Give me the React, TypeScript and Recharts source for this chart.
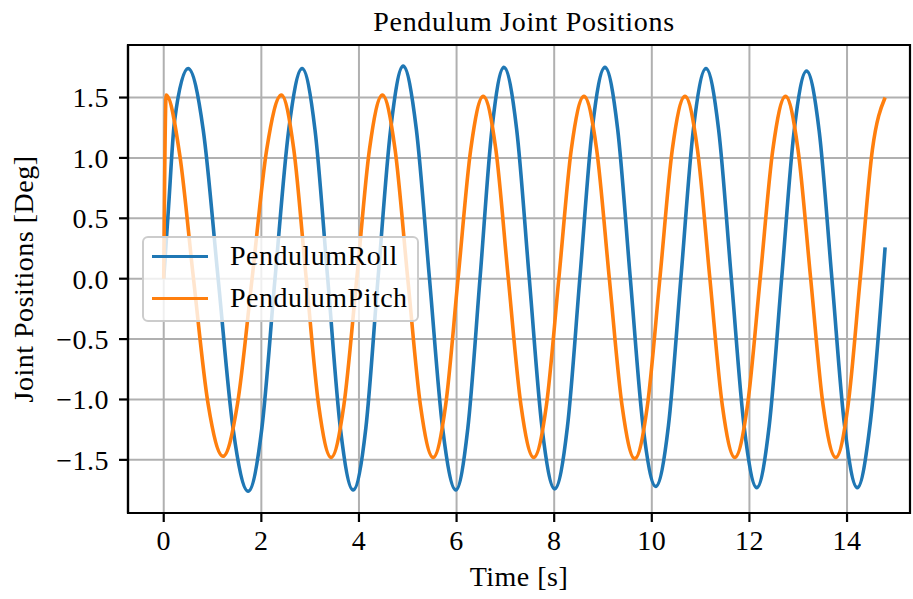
import React from 'react';
import { LineChart, Line, XAxis, YAxis, CartesianGrid, Legend, ReferenceArea } from 'recharts';

// Time stamps [s] and joint angles [deg]
const rollTime = [
  0, 0.1, 0.22, 0.5, 0.81, 1.115, 1.42, 1.73, 2.01, 2.28, 2.56, 2.835, 3.1, 3.36, 3.62, 3.88,
  4.14, 4.39, 4.65, 4.905, 5.175, 5.445, 5.715, 5.985, 6.23, 6.48, 6.725, 6.97, 7.23, 7.49,
  7.75, 8.01, 8.27, 8.525, 8.78, 9.04, 9.3, 9.56, 9.82, 10.08, 10.34, 10.595, 10.85, 11.11,
  11.37, 11.63, 11.89, 12.15, 12.405, 12.66, 12.915, 13.17, 13.43, 13.69, 13.95, 14.21, 14.48, 14.78,
];
const rollDeg = [
  0, 0.6, 1.3, 1.74, 1.23, 0, -1.24, -1.76, -1.24, 0, 1.23, 1.74, 1.23, 0, -1.24, -1.75,
  -1.24, 0, 1.24, 1.76, 1.24, 0, -1.24, -1.75, -1.24, 0, 1.24, 1.75, 1.24, 0,
  -1.23, -1.74, -1.23, 0, 1.24, 1.75, 1.24, 0, -1.22, -1.72, -1.22, 0, 1.23, 1.74,
  1.23, 0, -1.22, -1.73, -1.22, 0, 1.22, 1.72, 1.22, 0, -1.22, -1.73, -1.18, 0.26,
];

const pitchTime = [
  0, 0.05, 0.33, 0.61, 0.91, 1.215, 1.51, 1.81, 2.11, 2.41, 2.665, 2.92, 3.175, 3.43, 3.69,
  3.955, 4.215, 4.48, 4.74, 5.0, 5.26, 5.52, 5.775, 6.03, 6.29, 6.545, 6.805, 7.06, 7.32,
  7.58, 7.84, 8.095, 8.35, 8.61, 8.87, 9.13, 9.39, 9.65, 9.91, 10.165, 10.42, 10.68, 10.935,
  11.19, 11.445, 11.7, 11.96, 12.22, 12.48, 12.74, 12.995, 13.255, 13.51, 13.77, 14.02, 14.27,
  14.52, 14.78,
];
const pitchDeg = [
  0, 1.52, 1.02, 0, -1.04, -1.47, -1.04, 0, 1.07, 1.52, 1.07, 0, -1.05, -1.48, -1.05,
  0, 1.07, 1.52, 1.07, 0, -1.05, -1.48, -1.05, 0, 1.07, 1.51, 1.07, 0, -1.05,
  -1.48, -1.05, 0, 1.07, 1.51, 1.07, 0, -1.05, -1.49, -1.05, 0, 1.07, 1.51, 1.07,
  0, -1.05, -1.48, -1.05, 0, 1.07, 1.51, 1.07, 0, -1.05, -1.48, -1.05, 0,
  1.07, 1.5,
];

const xTicks = [0, 2, 4, 6, 8, 10, 12, 14];
const yTicks = [-1.5, -1.0, -0.5, 0, 0.5, 1.0, 1.5];
const xDomain = [-0.732, 15.29];
const yDomain = [-1.94, 1.935];

const rollData = rollTime.map((t, i) => ({ t, v: rollDeg[i] }));
const pitchData = pitchTime.map((t, i) => ({ t, v: pitchDeg[i] }));

const series = [
  { name: 'PendulumRoll', color: '#1f77b4' },
  { name: 'PendulumPitch', color: '#ff7f0e' },
];

const FONT = "'Liberation Serif', 'Times New Roman', serif";
const FS = 28;
const LS = 0.5;

const fmtY = (v: number) => (v < 0 ? '\u2212' + Math.abs(v).toFixed(1) : v.toFixed(1));

const LegendBox = () => (
  <div
    style={{
      background: 'rgba(255,255,255,0.8)',
      border: '2px solid #cccccc',
      borderRadius: 6,
      boxSizing: 'border-box',
      width: 277,
      height: 86,
      padding: '0 0 8px 8px',
      fontFamily: FONT,
      fontSize: FS,
      letterSpacing: LS,
      color: '#000',
    }}
  >
    {series.map((s, i) => (
      <div key={s.name} style={{ display: 'flex', alignItems: 'center', height: 36, marginTop: i ? 6 : 0 }}>
        <span style={{ display: 'inline-block', width: 56, borderTop: `3.5px solid ${s.color}`, marginRight: 22 }} />
        <span style={{ lineHeight: '36px' }}>{s.name}</span>
      </div>
    ))}
  </div>
);

export default function App() {
  return (
    <div style={{ position: 'absolute', left: 0, top: 0, width: 913, height: 599, background: '#fff' }}>
      <div
        style={{
          position: 'absolute',
          left: 128,
          width: 792,
          top: 8,
          textAlign: 'center',
          fontFamily: FONT,
          fontSize: FS,
          letterSpacing: 0.7,
          lineHeight: '28px',
          color: '#000',
        }}
      >
        Pendulum Joint Positions
      </div>
      <LineChart width={913} height={599} margin={{ top: 45, right: 3, bottom: 0, left: 0 }}>
        <CartesianGrid stroke="#b0b0b0" strokeWidth={2} />
        <XAxis
          type="number"
          dataKey="t"
          domain={xDomain}
          ticks={xTicks}
          allowDataOverflow
          height={86}
          tickSize={9}
          tickMargin={8}
          axisLine={{ stroke: '#000', strokeWidth: 2.2 }}
          tickLine={{ stroke: '#000', strokeWidth: 2.2 }}
          tick={{ fill: '#000', fontFamily: FONT, fontSize: FS, letterSpacing: LS }}
          label={(props: any) => {
            const vb = props.viewBox || { x: 128, y: 513, width: 782 };
            return (
              <text
                x={vb.x + vb.width / 2}
                y={vb.y + 73}
                textAnchor="middle"
                fontFamily={FONT}
                fontSize={FS}
                letterSpacing={LS}
                fill="#000"
              >
                Time [s]
              </text>
            );
          }}
        />
        <YAxis
          type="number"
          dataKey="v"
          domain={yDomain}
          ticks={yTicks}
          allowDataOverflow
          width={128}
          tickSize={9}
          tickMargin={10}
          tickFormatter={fmtY}
          axisLine={{ stroke: '#000', strokeWidth: 2.2 }}
          tickLine={{ stroke: '#000', strokeWidth: 2.2 }}
          tick={{ fill: '#000', fontFamily: FONT, fontSize: FS, letterSpacing: LS }}
          label={(props: any) => {
            const vb = props.viewBox || { x: 0, y: 45, height: 468 };
            const cx = 33;
            const cy = vb.y + vb.height / 2;
            return (
              <text
                x={cx}
                y={cy}
                transform={`rotate(-90, ${cx}, ${cy})`}
                textAnchor="middle"
                fontFamily={FONT}
                fontSize={FS}
                letterSpacing={LS}
                fill="#000"
              >
                Joint Positions [Deg]
              </text>
            );
          }}
        />
        <Line
          data={rollData}
          dataKey="v"
          name={series[0].name}
          type="monotone"
          stroke={series[0].color}
          strokeWidth={3.6}
          dot={false}
          isAnimationActive={false}
        />
        <Line
          data={pitchData}
          dataKey="v"
          name={series[1].name}
          type="monotone"
          stroke={series[1].color}
          strokeWidth={3.6}
          dot={false}
          isAnimationActive={false}
        />
        <ReferenceArea
          x1={xDomain[0]}
          x2={xDomain[1]}
          y1={yDomain[0]}
          y2={yDomain[1]}
          fill="none"
          stroke="#000"
          strokeWidth={2.2}
          ifOverflow="visible"
        />
        <Legend
          layout="vertical"
          align="center"
          verticalAlign="middle"
          content={() => <LegendBox />}
          wrapperStyle={{ left: 142, top: 236, width: 277, height: 86 }}
        />
      </LineChart>
    </div>
  );
}
